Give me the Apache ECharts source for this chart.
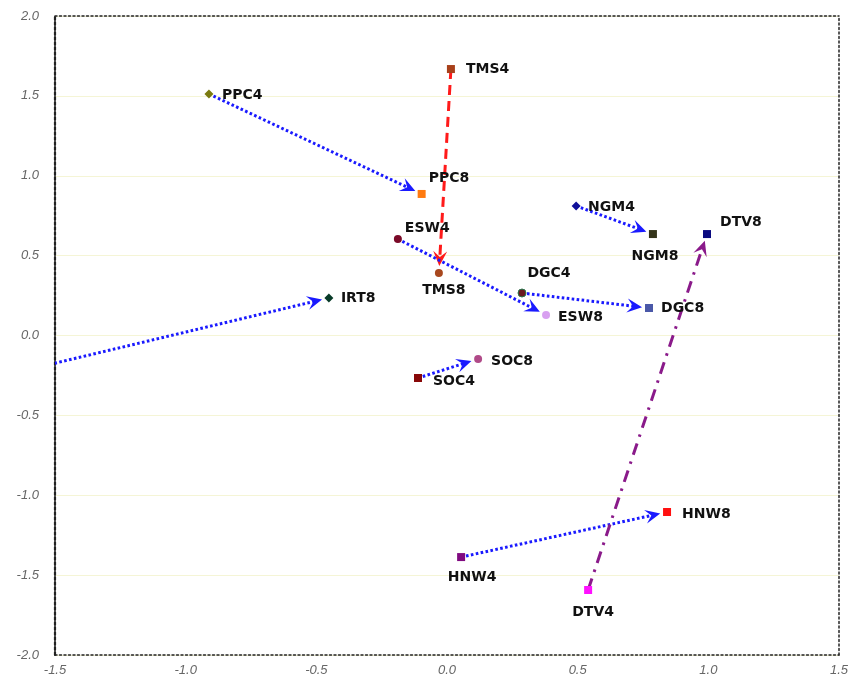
<!DOCTYPE html>
<html><head><meta charset="utf-8">
<script src="https://cdn.jsdelivr.net/npm/echarts@6/dist/echarts.min.js"></script>
<style>html,body{margin:0;padding:0;background:#fff}#c{width:848px;height:680px}</style>
</head><body><div id="c"></div>
<script>
// ---- data ----
const pointNames = ['PPC4','PPC8','TMS4','TMS8','ESW4','ESW8','IRT4','IRT8','DGC4','DGC8','NGM4','NGM8','DTV4','DTV8','SOC4','SOC8','HNW4','HNW8'];
const pointX     = [-0.911,-0.097, 0.015,-0.031,-0.188, 0.379,-1.80,-0.452, 0.287, 0.773, 0.494, 0.788, 0.540, 0.995,-0.111, 0.119, 0.054, 0.842];
const pointY     = [ 1.512, 0.886, 1.668, 0.391, 0.604, 0.128,-0.29, 0.235, 0.266, 0.172, 0.811, 0.635,-1.593, 0.635,-0.266,-0.147,-1.387,-1.105];
const arrowFrom  = ['PPC4','TMS4','ESW4','IRT4','DGC4','NGM4','SOC4','HNW4','DTV4'];
const arrowTo    = ['PPC8','TMS8','ESW8','IRT8','DGC8','NGM8','SOC8','HNW8','DTV8'];
const xTickLabels = ['-1.5','-1.0','-0.5','0.0','0.5','1.0','1.5'];
const yTickLabels = ['-2.0','-1.5','-1.0','-0.5','0.0','0.5','1.0','1.5','2.0'];

// ---- styles ----
const pointStyle = {
  PPC4:{symbol:'diamond',color:'#7a7a10',size:9, lab:[13,1,'left']},
  PPC8:{symbol:'rect',color:'#ff7a10',size:8, lab:[7,-16,'left']},
  TMS4:{symbol:'rect',color:'#a8401a',size:8, lab:[15,0,'left']},
  TMS8:{symbol:'circle',color:'#a8481e',size:8, lab:[5,17,'center']},
  ESW4:{symbol:'circle',color:'#7a0a28',size:8, lab:[7,-11,'left']},
  ESW8:{symbol:'circle',color:'#d8a0f0',size:8, lab:[12,2,'left']},
  IRT4:{symbol:'none',color:'#000',size:0, lab:null},
  IRT8:{symbol:'diamond',color:'#083a28',size:9, lab:[12,0,'left']},
  DGC4:{symbol:'circle',color:'#6a1a20',size:8, lab:[27,-20,'center'], border:'#2a7a50'},
  DGC8:{symbol:'rect',color:'#4a58a8',size:8, lab:[12,0,'left']},
  NGM4:{symbol:'diamond',color:'#10109a',size:9, lab:[12,1,'left']},
  NGM8:{symbol:'rect',color:'#34341a',size:8, lab:[2,22,'center']},
  DTV4:{symbol:'rect',color:'#ff10ff',size:8, lab:[5,22,'center']},
  DTV8:{symbol:'rect',color:'#0a0a80',size:8, lab:[13,-12,'left']},
  SOC4:{symbol:'rect',color:'#880808',size:8, lab:[15,3,'left']},
  SOC8:{symbol:'circle',color:'#b04a88',size:8, lab:[13,2,'left']},
  HNW4:{symbol:'rect',color:'#800a80',size:8, lab:[11,20,'center']},
  HNW8:{symbol:'rect',color:'#ff1010',size:8, lab:[15,2,'left']}
};
const arrowKinds = [
  {color:'#1a1aff', dash:[2.6,2.4]},       // dotted
  {color:'#ff1a1a', dash:[10,6]},          // dashed
  {color:'#8a1a8a', dash:[12,7,2.5,7]}     // dash-dot
];
const arrowKindOf = [0,1,0,0,0,0,0,0,2];

const idx = n => pointNames.indexOf(n);

const scatterData = pointNames.map((n,i) => {
  const s = pointStyle[n];
  const item = {
    name:n, value:[pointX[i], pointY[i]], symbol:s.symbol, symbolSize:s.size,
    itemStyle:{color:s.color, opacity:1, borderColor:s.border||s.color, borderWidth:s.border?1:0}
  };
  if (s.lab) {
    item.label = {show:true, position:'inside', offset:[s.lab[0], s.lab[1]], align:s.lab[2],
      verticalAlign:'middle', formatter:n, color:'#111', textBorderWidth:0,
      fontFamily:'DejaVu Sans', fontWeight:'bold', fontSize:14};
  } else {
    item.label = {show:false};
  }
  return item;
});

const arrowData = arrowFrom.map((f,i) => {
  const a = idx(f), b = idx(arrowTo[i]);
  return [pointX[a], pointY[a], pointX[b], pointY[b], arrowKindOf[i]];
});

const chart = echarts.init(document.getElementById('c'), null, {renderer:'canvas'});
const tickStyle = {color:'#666', fontStyle:'italic', fontFamily:'Liberation Sans', fontSize:13};
const frame = (w, d) => ({show:true, onZero:false, lineStyle:{color:'#222', type:d, width:w}});

chart.setOption({
  animation:false,
  backgroundColor:'#fff',
  grid:{left:55, right:9, top:16, bottom:25, containLabel:false, outerBoundsMode:'none'},
  xAxis:[
    {type:'value', min:-1.5, max:1.5, interval:0.5, position:'bottom',
     axisLine:frame(1.5,[2,2.5]), axisTick:{show:false}, splitLine:{show:false},
     axisLabel:Object.assign({margin:9, formatter:v => xTickLabels[Math.round((v+1.5)/0.5)]}, tickStyle)},
    {type:'value', min:-1.5, max:1.5, interval:0.5, position:'top',
     axisLine:frame(1.5,[2,2.5]), axisTick:{show:false}, splitLine:{show:false}, axisLabel:{show:false}}
  ],
  yAxis:[
    {type:'value', min:-2, max:2, interval:0.5, position:'left',
     axisLine:frame(2.2,[3,2]), axisTick:{show:false},
     splitLine:{show:true, lineStyle:{color:'#f5f5d6', width:1}},
     axisLabel:Object.assign({margin:16, formatter:v => yTickLabels[Math.round((v+2)/0.5)]}, tickStyle)},
    {type:'value', min:-2, max:2, interval:0.5, position:'right',
     axisLine:frame(1.5,[2,2.5]), axisTick:{show:false}, splitLine:{show:false}, axisLabel:{show:false}}
  ],
  series:[
    {
      type:'custom', coordinateSystem:'cartesian2d', xAxisIndex:0, yAxisIndex:0,
      clip:true, silent:true, data:arrowData,
      renderItem:function(params, api){
        const p1 = api.coord([api.value(0), api.value(1)]);
        const p2 = api.coord([api.value(2), api.value(3)]);
        const k = arrowKinds[api.value(4)];
        const dx = p2[0]-p1[0], dy = p2[1]-p1[1];
        const len = Math.sqrt(dx*dx+dy*dy);
        const ux = dx/len, uy = dy/len, nx = -uy, ny = ux;
        const gap = 7, L = 15, W = 7;
        const tip = [p2[0]-ux*gap, p2[1]-uy*gap];
        const back = [tip[0]-ux*L, tip[1]-uy*L];
        const notch = [tip[0]-ux*L*0.6, tip[1]-uy*L*0.6];
        const lineEnd = [tip[0]-ux*L*0.5, tip[1]-uy*L*0.5];
        return {type:'group', children:[
          {type:'polyline', shape:{points:[p1, lineEnd]},
           style:{stroke:k.color, lineWidth:3, lineDash:k.dash, fill:null}},
          {type:'polygon', shape:{points:[tip, [back[0]+nx*W, back[1]+ny*W], notch, [back[0]-nx*W, back[1]-ny*W]]},
           style:{fill:k.color, stroke:null}}
        ]};
      }
    },
    {
      type:'scatter', xAxisIndex:0, yAxisIndex:0, clip:true, silent:true,
      data:scatterData
    }
  ]
});
</script></body></html>
